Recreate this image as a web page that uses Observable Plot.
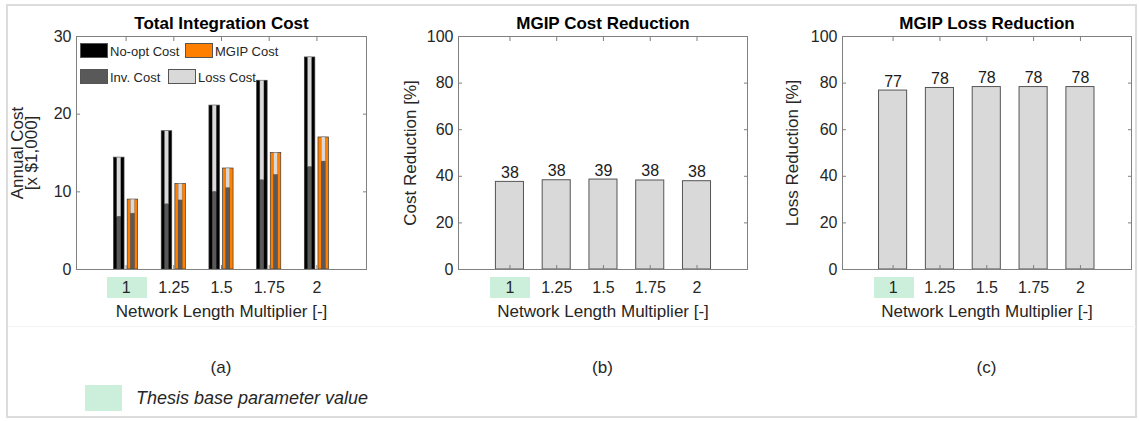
<!DOCTYPE html>
<html><head><meta charset="utf-8">
<script src="https://cdn.jsdelivr.net/npm/d3@7"></script>
<script src="https://cdn.jsdelivr.net/npm/@observablehq/plot@0.6"></script>
<style>
body{margin:0;background:#fff;}
#root{position:relative;width:1139px;height:421px;overflow:hidden;font-family:"Liberation Sans",Arial,sans-serif;background:#fff;color:#262626;}
.abs{position:absolute;}
.abs svg{display:block;}
</style></head><body><div id="root"></div>
<script>
// ---- data ----
const multipliers = ["1", "1.25", "1.5", "1.75", "2"];
const noOptTotal = [14.4, 17.8, 21.1, 24.3, 27.3];
const noOptInv   = [6.8, 8.4, 10.0, 11.5, 13.2];
const mgipTotal  = [9.0, 11.0, 13.0, 15.0, 17.0];
const mgipInv    = [7.2, 8.9, 10.5, 12.2, 13.9];
const costReduction = [37.6, 38.3, 38.6, 38.2, 37.9];
const costReductionLabels = ["38", "38", "39", "38", "38"];
const lossReduction = [76.8, 77.9, 78.3, 78.3, 78.3];
const lossReductionLabels = ["77", "78", "78", "78", "78"];
const costTicks = [0, 10, 20, 30];
const pctTicks = [0, 20, 40, 60, 80, 100];
const baseValue = "1";

// ---- styles ----
const FONT = '"Liberation Sans", Arial, sans-serif';
const C_NOOPT = "#000000", C_MGIP = "#ff8000", C_INV = "#595959", C_LOSS = "#d9d9d9";
const C_AXIS = "#808080", C_TEXT = "#262626", C_BASE = "#ccefdc";

const root = document.getElementById("root");
function place(el, left, top) {
  const d = document.createElement("div");
  d.className = "abs"; d.style.left = left + "px"; d.style.top = top + "px";
  d.appendChild(el); root.appendChild(d); return d;
}
function box(left, top, w, h, css) {
  const d = document.createElement("div");
  d.className = "abs";
  Object.assign(d.style, {left: left + "px", top: top + "px", width: w + "px", height: h + "px", boxSizing: "border-box"}, css || {});
  root.appendChild(d); return d;
}
function label(text, cx, cy, css) {
  const d = document.createElement("div");
  d.className = "abs"; d.textContent = text;
  Object.assign(d.style, {left: cx + "px", top: cy + "px", transform: "translate(-50%,-50%)", whiteSpace: "nowrap"}, css || {});
  root.appendChild(d); return d;
}

// outer frame and faint separator
box(6, 4, 1131, 414, {border: "2px solid #dcdcdc"});
box(8, 326, 1128, 1, {background: "#f3f3f3"});

const idx = multipliers.map((_, i) => i + 1);
const baseIdx = multipliers.indexOf(baseValue) + 1;

function commonAxes(yTicks) {
  return [
    Plot.frame({stroke: C_AXIS}),
    Plot.axisY({anchor: "left", ticks: yTicks, tickSize: -4, tickPadding: 9, label: null, stroke: C_AXIS, fill: C_TEXT, fontSize: 16}),
    Plot.axisY({anchor: "right", ticks: yTicks, tickSize: -4, tickFormat: () => "", label: null, stroke: C_AXIS}),
    Plot.axisX({anchor: "bottom", ticks: idx, tickSize: -4, tickPadding: 16, tickFormat: i => multipliers[i - 1], label: null, stroke: C_AXIS, fill: C_TEXT, fontSize: 16}),
    Plot.axisX({anchor: "top", ticks: idx, tickSize: -4, tickFormat: () => "", label: null, stroke: C_AXIS}),
    Plot.text(["Network Length Multiplier [-]"], {frameAnchor: "bottom", lineAnchor: "middle", textAnchor: "middle", dy: 42, fontSize: 17, fill: C_TEXT})
  ];
}
function titleMark(t) {
  return Plot.text([t], {frameAnchor: "top", lineAnchor: "middle", textAnchor: "middle", dy: -13, fontSize: 17, fontWeight: "bold", fill: "#000"});
}

// ---- panel (a) ----
const groupsA = idx.map((p, i) => ({p, noOptTotal: noOptTotal[i], noOptInv: noOptInv[i], mgipTotal: mgipTotal[i], mgipInv: mgipInv[i]}));
const OFF = 0.143, OUTER = 0.11, INNER = 0.042;
function barSet(side, totalKey, invKey, color) {
  const c = d => d.p + side * OFF;
  return [
    Plot.rect(groupsA, {x1: d => c(d) - OUTER, x2: d => c(d) + OUTER, y1: 0, y2: totalKey, fill: color, stroke: "#3a3a3a", strokeWidth: 0.7}),
    Plot.rect(groupsA, {x1: d => c(d) - INNER, x2: d => c(d) + INNER, y1: 0, y2: invKey, fill: C_INV, stroke: "#444", strokeWidth: 0.4}),
    Plot.rect(groupsA, {x1: d => c(d) - INNER, x2: d => c(d) + INNER, y1: invKey, y2: totalKey, fill: C_LOSS, stroke: "#777", strokeWidth: 0.4})
  ];
}
const plotA = Plot.plot({
  width: 380, height: 330, marginLeft: 76, marginRight: 14, marginTop: 36, marginBottom: 61,
  x: {domain: [-0.04, 6.04]},
  y: {domain: [0, 30]},
  style: {fontFamily: FONT, fontSize: "16px", color: C_TEXT, background: "transparent", overflow: "visible"},
  marks: [
    ...barSet(-1, "noOptTotal", "noOptInv", C_NOOPT),
    ...barSet(1, "mgipTotal", "mgipInv", C_MGIP),
    ...commonAxes(costTicks),
    titleMark("Total Integration Cost"),
    Plot.text(["Annual Cost\n[x $1,000]"], {frameAnchor: "left", textAnchor: "middle", lineAnchor: "middle", rotate: -90, dx: -51, fontSize: 17, lineHeight: 0.85, fill: C_TEXT})
  ]
});

// ---- panels (b) and (c) ----
function reductionPlot(values, labels, title, ylab, xDomain, mL, mR, w, yDx) {
  const data = idx.map((p, i) => ({p, v: values[i], t: labels[i]}));
  return Plot.plot({
    width: w, height: 330, marginLeft: mL, marginRight: mR, marginTop: 36, marginBottom: 61,
    x: {domain: xDomain},
    y: {domain: [0, 100]},
    style: {fontFamily: FONT, fontSize: "16px", color: C_TEXT, background: "transparent", overflow: "visible"},
    marks: [
      Plot.rect(data, {x1: d => d.p - 0.3, x2: d => d.p + 0.3, y1: 0, y2: "v", fill: C_LOSS, stroke: "#555", strokeWidth: 1}),
      Plot.text(data, {x: "p", y: "v", text: "t", dy: -4, lineAnchor: "bottom", fontSize: 16, fill: "#1a1a1a"}),
      ...commonAxes(pctTicks),
      titleMark(title),
      Plot.text([ylab], {frameAnchor: "left", textAnchor: "middle", lineAnchor: "middle", rotate: -90, dx: yDx, fontSize: 17, fill: C_TEXT})
    ]
  });
}
const plotB = reductionPlot(costReduction, costReductionLabels, "MGIP Cost Reduction", "Cost Reduction [%]", [-0.1, 6.08], 78, 13, 380, -48);
const plotC = reductionPlot(lossReduction, lossReductionLabels, "MGIP Loss Reduction", "Loss Reduction [%]", [-0.08, 6.09], 82, 8, 379, -50);

// base-value highlight behind the "1" tick label (placed first so it sits under the SVGs)
const panels = [[plotA, 0], [plotB, 380], [plotC, 760]];
for (const [pl, left] of panels) {
  const cx = left + pl.scale("x").apply(baseIdx) + 1;
  box(cx - 20, 277, 40, 21, {background: C_BASE});
}
for (const [pl, left] of panels) place(pl, left, 0);

// legend inside panel (a)
const legendItems = [
  ["No-opt Cost", C_NOOPT, 80, 43, 110],
  ["MGIP Cost", C_MGIP, 185, 43, 215],
  ["Inv. Cost", C_INV, 80, 69, 110],
  ["Loss Cost", C_LOSS, 168, 69, 198]
];
for (const [t, col, sx, sy, tx] of legendItems) {
  box(sx, sy, 28, 15, {background: col, border: "1px solid #555"});
  const d = document.createElement("div");
  d.className = "abs"; d.textContent = t;
  Object.assign(d.style, {left: tx + "px", top: (sy + 7.5) + "px", transform: "translateY(-50%)", fontSize: "13px", whiteSpace: "nowrap", color: C_TEXT});
  root.appendChild(d);
}

// sub-figure captions
const capY = 368;
[["(a)", 221], ["(b)", 602.5], ["(c)", 986.5]].forEach(([t, x]) => label(t, x, capY, {fontSize: "17px", color: C_TEXT}));

// bottom legend
box(85, 385, 37, 26, {background: C_BASE});
const lg = document.createElement("div");
lg.className = "abs"; lg.textContent = "Thesis base parameter value";
Object.assign(lg.style, {left: "136px", top: "398px", transform: "translateY(-50%)", fontSize: "18px", fontStyle: "italic", whiteSpace: "nowrap", color: C_TEXT});
root.appendChild(lg);
</script>
</body></html>
